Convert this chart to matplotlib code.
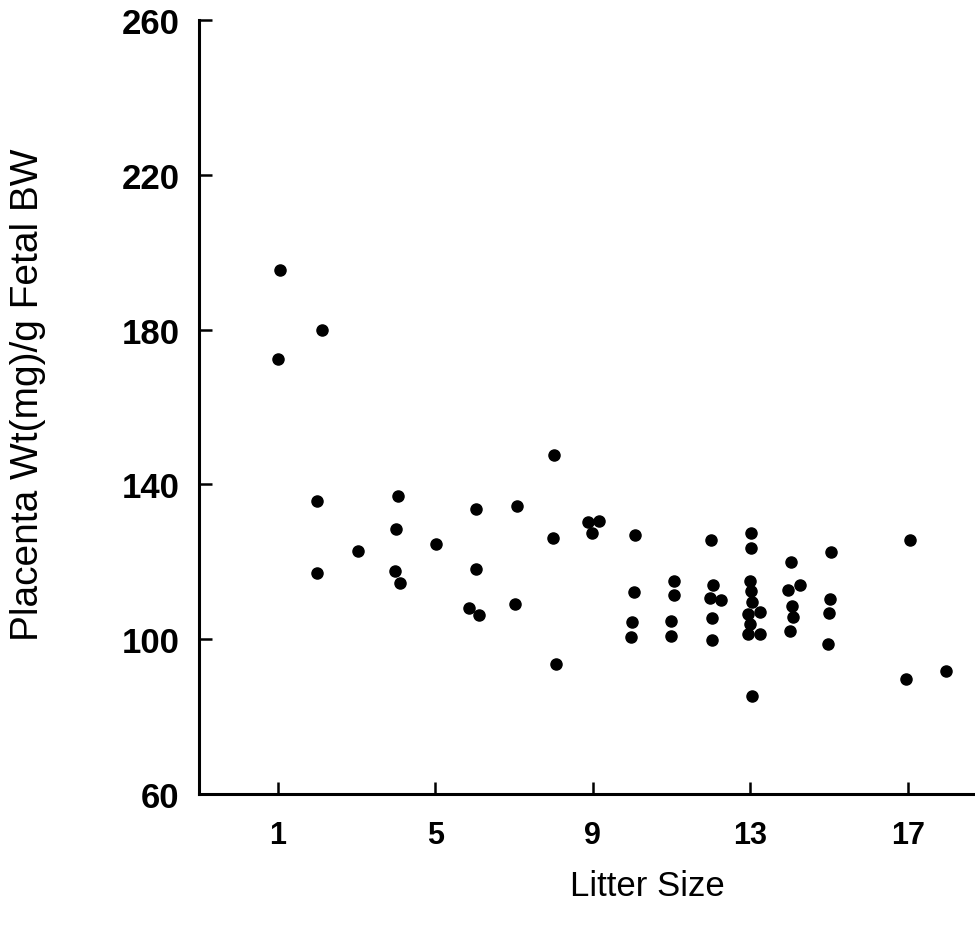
import matplotlib
matplotlib.use("Agg")
import matplotlib.pyplot as plt

# litter size and placenta weight per g fetal body weight
litter_size = [1.05, 2.13, 1.0, 2.0, 4.06, 6.04, 4.0, 5.02, 3.04, 1.99, 3.99, 6.03,
               4.1, 5.85, 6.1,
               8.01, 7.07, 8.88, 9.16, 8.98, 8.0, 10.06, 10.04, 11.05, 11.05, 7.02,
               10.0, 10.99, 9.96, 10.98, 8.06,
               12.0, 13.01, 13.01, 14.03, 15.04, 17.04, 12.05, 12.99, 13.01, 11.97,
               12.26, 13.05, 13.95, 14.25, 15.01, 14.05, 12.02, 12.95, 13.23, 13.0,
               14.09, 15.0, 12.03, 12.95, 13.24, 14.0, 14.97, 13.03, 16.96, 17.97]
placenta_ratio = [195.5, 180.0, 172.5, 135.8, 137.0, 133.5, 128.5, 124.6, 122.8, 117.1,
                  117.7, 118.1, 114.6, 107.9, 106.2,
                  147.6, 134.4, 130.2, 130.4, 127.5, 126.1, 127.0, 112.1, 115.1, 111.5,
                  109.0, 104.5, 104.7, 100.5, 100.7, 93.6,
                  125.5, 127.3, 123.4, 120.0, 122.5, 125.5, 113.9, 115.0, 112.4, 110.5,
                  110.1, 109.7, 112.6, 113.9, 110.4, 108.6, 105.5, 106.4, 107.0, 104.0,
                  105.6, 106.8, 99.7, 101.2, 101.4, 102.1, 98.6, 85.4, 89.6, 91.7]

x_ticks = [1, 5, 9, 13, 17]
y_ticks = [60, 100, 140, 180, 220, 260]

plt.rcParams['font.family'] = ['Liberation Sans', 'DejaVu Sans']

fig = plt.figure(figsize=(9.75, 9.53), dpi=100)
ax = fig.add_axes([0.204, 0.166, 0.796, 0.812])

ax.scatter(litter_size, placenta_ratio, s=64, color='black', zorder=3)

ax.set_xlim(-1.0, 18.7)
ax.set_ylim(60, 260)

ax.spines['top'].set_visible(False)
ax.spines['right'].set_visible(False)
ax.spines['left'].set_linewidth(2.2)
ax.spines['bottom'].set_linewidth(2.2)

ax.set_xticks(x_ticks)
ax.set_yticks(y_ticks)
ax.tick_params(axis='both', direction='in', length=9, width=1.8)
ax.tick_params(axis='x', pad=19, labelsize=22)
ax.tick_params(axis='y', pad=14, labelsize=25)
for lab in ax.get_xticklabels() + ax.get_yticklabels():
    lab.set_fontweight('bold')

fig.text(0.664, 0.070, 'Litter Size', fontsize=25, ha='center', va='center')
fig.text(0.029, 0.586, 'Placenta Wt(mg)/g Fetal BW', fontsize=28,
         rotation=90, ha='center', va='center')

fig.savefig('out.png', dpi=100, facecolor='white')
